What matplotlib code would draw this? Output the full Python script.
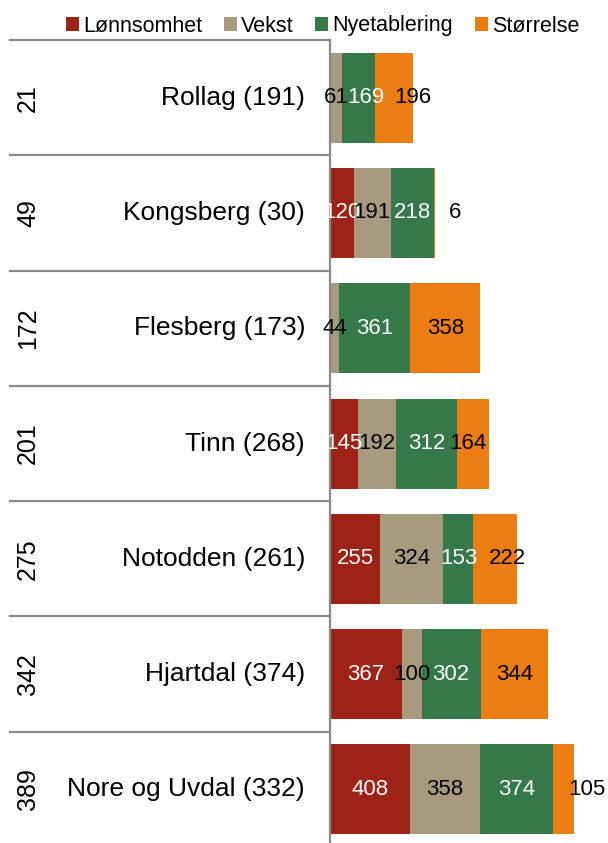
import matplotlib
matplotlib.use("Agg")
import matplotlib.pyplot as plt
import matplotlib.transforms as mtransforms
from matplotlib.patches import Patch

plt.rcParams['font.family'] = ['Liberation Sans', 'DejaVu Sans']

# kommuner, topp til bunn
kommuner = ["Rollag", "Kongsberg", "Flesberg", "Tinn", "Notodden", "Hjartdal", "Nore og Uvdal"]
plass_total = [21, 49, 172, 201, 275, 342, 389]
plass_fjor = [191, 30, 173, 268, 261, 374, 332]

serier = ["Lønnsomhet", "Vekst", "Nyetablering", "Størrelse"]
farger = ["#9c2315", "#a89a7f", "#357849", "#eb7d12"]
tekstfarge = ["white", "black", "white", "black"]

lonnsomhet = [0, 120, 4, 145, 255, 367, 408]
vekst = [61, 191, 44, 192, 324, 100, 358]
nyetablering = [169, 218, 361, 312, 153, 302, 374]
storrelse = [196, 6, 358, 164, 222, 344, 105]
vis_etikett = [[False, True, False, True, True, True, True],
               [True] * 7, [True] * 7, [True] * 7]

# flytting av enkelte etiketter (punkter)
flytt = {(0, 2): 5, (0, 3): 13, (1, 3): 15, (3, 3): -4, (4, 3): 9, (6, 3): 17}

W, H = 608, 843
fig = plt.figure(figsize=(W / 100, H / 100), dpi=100)
topp = 40
ax = fig.add_axes([330 / W, 0, 1 - 330 / W, 1 - topp / H])

rad_h = 115.3
n = len(kommuner)
ax.set_ylim(-0.5 + (H - topp) / rad_h, -0.5)
ax.set_xlim(0, (W - 330) / 0.196)

y = list(range(n))
venstre = [0] * n
for s, verdier in enumerate([lonnsomhet, vekst, nyetablering, storrelse]):
    ax.barh(y, verdier, left=venstre, height=0.78, color=farger[s],
            edgecolor="none", label=serier[s])
    for i, v in enumerate(verdier):
        if vis_etikett[s][i]:
            ax.annotate(str(v), (venstre[i] + v / 2, i),
                        xytext=(flytt.get((i, s), 0), 0), textcoords="offset points",
                        ha="center", va="center", fontsize=16, color=tekstfarge[s])
    venstre = [a + b for a, b in zip(venstre, verdier)]

for side in ["top", "right", "bottom"]:
    ax.spines[side].set_visible(False)
ax.spines["left"].set_color("#8a8a8a")
ax.spines["left"].set_linewidth(1.6)
ax.set_xticks([])
ax.set_yticks([])

# tabell til venstre for stolpene
trans = mtransforms.blended_transform_factory(fig.transFigure, ax.transData)
for i in range(n):
    fig.lines.append(plt.Line2D([10 / W, 330 / W], [i - 0.5, i - 0.5], transform=trans,
                                color="#8a8a8a", lw=1.6))
    ax.text(28 / W, i, str(plass_total[i]), transform=trans, rotation=90,
            ha="center", va="center", fontsize=18, clip_on=False)
    ax.text(305 / W, i, f"{kommuner[i]} ({plass_fjor[i]})", transform=trans,
            ha="right", va="center", fontsize=19, clip_on=False)

handles = [Patch(facecolor=f, edgecolor="none") for f in farger]
fig.legend(handles, serier, loc="center left", bbox_to_anchor=(66 / W, 1 - 26 / H),
           ncol=4, frameon=False, fontsize=15.5, handlelength=0.6, handleheight=0.6,
           handletextpad=0.2, columnspacing=1.0, borderpad=0, borderaxespad=0)

fig.savefig("out.png", dpi=100)
